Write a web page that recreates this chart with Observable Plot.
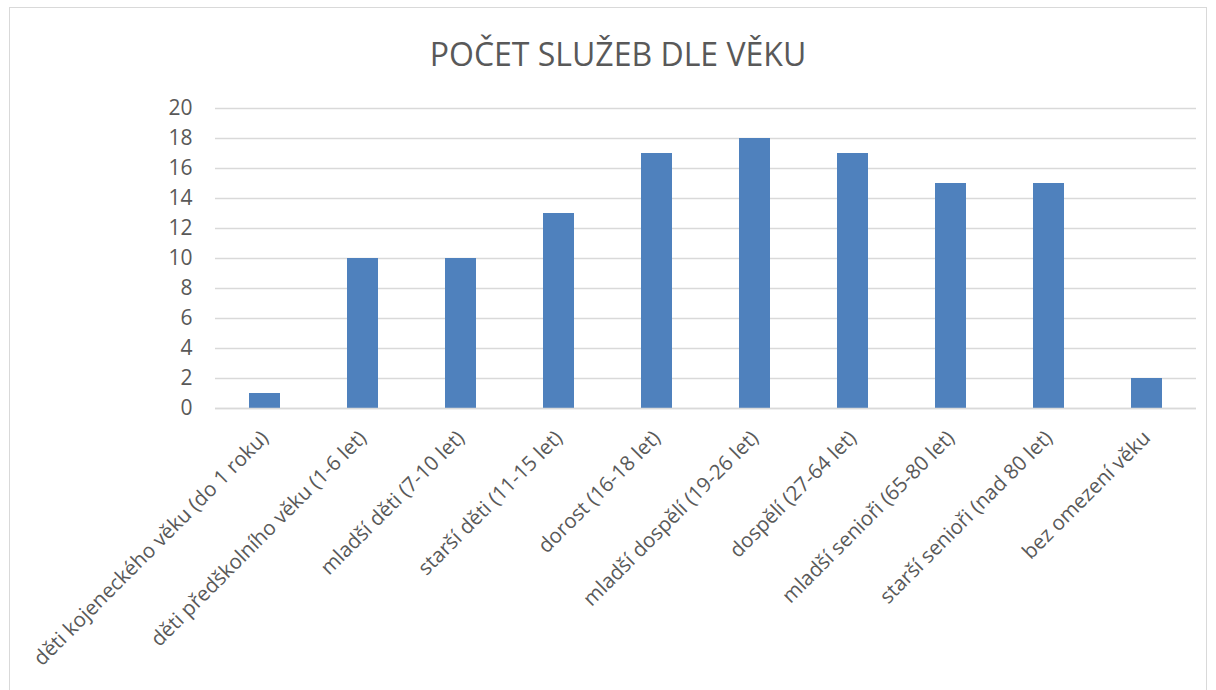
<!DOCTYPE html>
<html>
<head>
<meta charset="utf-8">
<script src="https://cdn.jsdelivr.net/npm/d3@7"></script>
<script src="https://cdn.jsdelivr.net/npm/@observablehq/plot@0.6"></script>
<style>
  html, body { margin: 0; padding: 0; background: #fff; overflow: hidden; }
  #wrap { position: relative; width: 1216px; height: 690px; font-family: "Open Sans", sans-serif; }
  #frame { position: absolute; left: 9px; top: 7px; width: 1198px; height: 700px; border: 1px solid #d9d9d9; box-sizing: border-box; }
  #title { position: absolute; left: 0; top: 0; width: 1236px; height: 90px; line-height: 108px; text-align: center; font-size: 32px; color: #595959; }
  #chart { position: absolute; left: 0; top: 90px; }
</style>
</head>
<body>
<div id="wrap">
  <div id="frame"></div>
  <div id="title">POČET SLUŽEB DLE VĚKU</div>
  <div id="chart"></div>
</div>
<script>
const categories = [
  "děti kojeneckého věku (do 1 roku)",
  "děti předškolního věku (1-6 let)",
  "mladší děti (7-10 let)",
  "starší děti (11-15 let)",
  "dorost (16-18 let)",
  "mladší dospělí (19-26 let)",
  "dospělí (27-64 let)",
  "mladší senioři (65-80 let)",
  "starší senioři (nad 80 let)",
  "bez omezení věku"
];
const values = [1, 10, 10, 13, 17, 18, 17, 15, 15, 2];
const yTicks = [0, 2, 4, 6, 8, 10, 12, 14, 16, 18, 20];

const data = categories.map((c, i) => ({category: c, value: values[i]}));

const chart = Plot.plot({
  width: 1216,
  height: 600,
  marginLeft: 215,
  marginRight: 20,
  marginTop: 18,
  marginBottom: 282,
  style: {fontFamily: "Open Sans, sans-serif", color: "#595959", background: "transparent"},
  x: {domain: categories, paddingInner: 0.68, paddingOuter: 0.34, label: null},
  y: {domain: [0, 20], label: null},
  marks: [
    Plot.gridY(yTicks, {stroke: "#d9d9d9", strokeOpacity: 1, strokeWidth: 1.5}),
    Plot.barY(data, {x: "category", y: "value", fill: "#4f81bd"}),
    Plot.ruleY([0], {stroke: "#d9d9d9", strokeWidth: 1.5}),
    Plot.axisY(yTicks, {tickSize: 0, tickPadding: 23, fontSize: 21, fill: "#595959", label: null}),
    Plot.axisX({tickSize: 0, tickRotate: -45, tickPadding: 26, fontSize: 20.5, fill: "#595959", label: null})
  ]
});
document.getElementById("chart").appendChild(chart);
</script>
</body>
</html>
